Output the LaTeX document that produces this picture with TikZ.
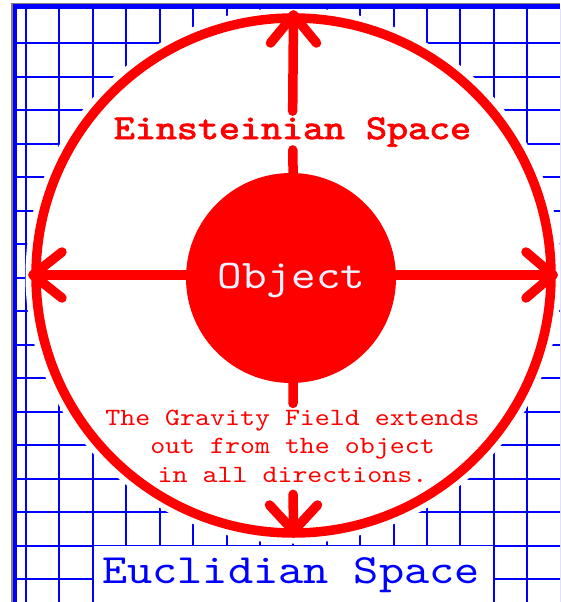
\documentclass[tikz,border=0pt]{standalone}
\usepackage{fontspec}
\newfontfamily\cmono[Extension=.otf, FakeStretch=1.15]{lmmono10-regular}
\newfontfamily\cmonob[Extension=.otf, FakeStretch=1.15, FakeBold=2.5]{lmmono10-regular}
\usetikzlibrary{calc}
\definecolor{gblue}{RGB}{0,0,255}
\definecolor{gred}{RGB}{255,0,0}
\definecolor{framegray}{RGB}{138,128,112}
\definecolor{objtxt}{RGB}{240,240,255}
\begin{document}
\begin{tikzpicture}[x=1pt,y=-1pt,
  gridline/.style={gblue, line width=2.2pt},
  redline/.style={gred, line width=9.5pt, line cap=round, line join=round},
  lbl/.style={inner sep=0pt, anchor=base}
]
\useasboundingbox (0,0) rectangle (560,602);
\clip (0,0) rectangle (560,602);
\fill[white] (0,0) rectangle (560,602);
% grid
\foreach \k in {0,...,16} \draw[gridline] ({round(26+33.42*\k)},9) -- ({round(26+33.42*\k)},602);
\foreach \k in {0,...,17} \draw[gridline] (17,{round(43+33.5*\k)}) -- (560,{round(43+33.5*\k)});
% white space inside the big circle
\coordinate (c) at (293.5,275.5);
\fill[white] (c) circle (268);
% Euclidian box
\fill[white] (94.2,546.2) rectangle (492.8,602);
% frame
\fill[framegray] (11,2.7) rectangle (13.3,602);
\fill[framegray] (11,2.7) rectangle (560,4);
\fill[gblue] (13.3,4) rectangle (17.3,602);
\fill[gblue] (13.3,4) rectangle (560,9.3);
% ring
\draw[gred, line width=9.5pt] (c) circle (257.5);
% tips
\coordinate (tipL) at (33,275);
\coordinate (tipR) at (553,275);
\coordinate (tipT) at (293.5,15);
\coordinate (tipB) at (293.5,531);
% labels
\node[lbl, text=gred, font=\fontsize{34.8}{34.8}\selectfont\cmonob] (ein) at (292.5,139) {Einsteinian Space};
\node[lbl, text=gred, align=center, font=\fontsize{24.8}{28.5}\selectfont\cmono] (grav) at (292.5,482)
  {The Gravity Field extends\\out from the object\\in all directions.};
% arrows
\draw[redline] (tipL) -- (tipR);
\draw[redline, shorten >=6pt] (tipT) -- (ein);
\draw[redline, shorten <=3pt] (ein) -- (293.5,200);
\draw[redline, shorten >=6pt] (293.5,360) -- (grav);
\draw[redline, shorten <=12pt] (grav) -- (tipB);
\draw[redline] ($(tipL)+(29,-23)$) -- (tipL) -- ($(tipL)+(29,23)$);
\draw[redline] ($(tipR)+(-27,-23)$) -- (tipR) -- ($(tipR)+(-27,23)$);
\draw[redline] ($(tipT)+(-23,28)$) -- (tipT) -- ($(tipT)+(23,28)$);
\draw[redline] ($(tipB)+(-24,-26)$) -- (tipB) -- ($(tipB)+(24,-26)$);
% object
\node[circle, fill=gred, minimum size=210pt, inner sep=0pt] (obj) at (291,278) {};
\node[lbl, text=objtxt, font=\fontsize{40.7}{40.7}\selectfont\cmono] (objlabel) at (291.5,288.3) {Object};
% Euclidian
\node[lbl, text=gblue, font=\fontsize{41.7}{41.7}\selectfont\cmono] (euc) at (291,583) {Euclidian Space};
\end{tikzpicture}
\end{document}
